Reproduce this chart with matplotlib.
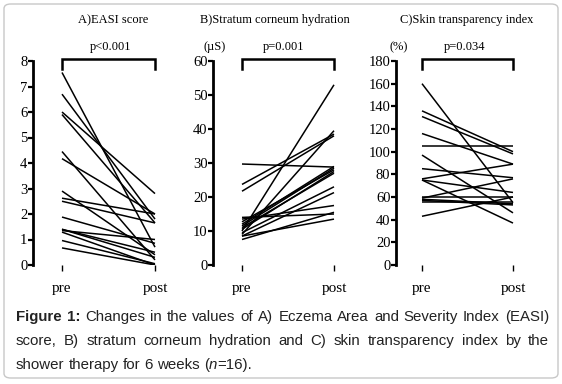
import matplotlib
matplotlib.use("Agg")
import matplotlib.pyplot as plt
from matplotlib.patches import FancyBboxPatch
import matplotlib.transforms as mtransforms

W, H, DPI = 562, 384, 100

conditions = ["pre", "post"]

easi_pre  = [7.55, 6.70, 6.00, 5.90, 4.45, 4.17, 2.90, 2.62, 2.50, 1.88, 1.40, 1.35, 1.29, 0.96, 0.67, 1.40]
easi_post = [0.70, 1.80, 2.80, 1.65, 0.20, 2.00, 0.40, 2.00, 1.65, 0.85, 0.50, 1.00, 0.00, 0.05, 0.00, 0.30]

hyd_pre  = [29.7, 23.7, 21.7, 10.0, 9.0, 14.0, 13.5, 12.7, 11.5, 10.5, 12.0, 9.5, 8.5, 8.5, 7.5, 11.0]
hyd_post = [28.8, 38.5, 38.0, 53.0, 39.5, 15.0, 17.5, 28.0, 28.5, 27.5, 29.0, 23.0, 21.3, 13.5, 15.5, 27.0]

sti_pre  = [160, 136, 131, 116, 105, 97, 85, 76, 75, 75, 60, 59, 58, 57, 56, 43]
sti_post = [55, 100, 98, 89, 105, 46, 77, 89, 64, 37, 60, 76, 54, 53, 56, 60]

titles = ["A)EASI score", "B)Stratum corneum hydration", "C)Skin transparency index"]
pvals = ["p<0.001", "p=0.001", "p=0.034"]
units = [None, "(\u00b5S)", "(%)"]
yticks_list = [list(range(0, 9, 1)), list(range(0, 61, 10)), list(range(0, 181, 20))]

SERIF = "Liberation Serif"
SANS = "Liberation Sans"

fig = plt.figure(figsize=(W / DPI, H / DPI), dpi=DPI)

# outer rounded frame
frame = FancyBboxPatch((4 / W, 1 - 378 / H), 554 / W, 374 / H,
                       boxstyle="round,pad=0,rounding_size=0.012",
                       transform=fig.transFigure, fc="none", ec="#c8c8c8", lw=1.0, zorder=-5)
fig.patches.append(frame)

# layout in pixels: (axis_x, pre_x, post_x, title_x, p_x, unit_x)
layouts = [
    (33, 62, 155, 113, 111, None),
    (213, 242, 334, 275, 284, 215),
    (396, 422, 513, 467, 465, 399),
]
series = [(easi_pre, easi_post), (hyd_pre, hyd_post), (sti_pre, sti_post)]
ymaxes = [8, 60, 180]
Y_TOP, Y_BOT = 61, 265

for i in range(3):
    ax_x, pre_x, post_x, title_x, p_x, unit_x = layouts[i]
    margin = pre_x - ax_x
    right = post_x + margin
    ax = fig.add_axes([ax_x / W, 1 - Y_BOT / H, (right - ax_x) / W, (Y_BOT - Y_TOP) / H])
    ax.patch.set_alpha(0)
    span = post_x - pre_x
    ax.set_xlim(-margin / span, 1 + margin / span)
    ax.set_ylim(0, ymaxes[i])
    pre, post = series[i]
    for a, b in zip(pre, post):
        ax.plot([0, 1], [a, b], color="black", lw=1.1, solid_capstyle="butt")
    for s in ["top", "right", "bottom"]:
        ax.spines[s].set_visible(False)
    ax.spines["left"].set_linewidth(2.0)
    ax.set_yticks(yticks_list[i])
    ax.set_yticklabels([str(v) for v in yticks_list[i]], fontfamily=SERIF, fontsize=10.5)
    ax.tick_params(axis="y", length=3.5, width=1.6, pad=0.5, direction="out")
    ax.set_xticks([0, 1])
    ax.set_xticklabels(conditions, fontfamily=SERIF, fontsize=11)
    ax.tick_params(axis="x", length=4, width=1.0, pad=8, direction="out")

    # bracket
    trans = mtransforms.blended_transform_factory(ax.transData, ax.transAxes)
    ytop = (Y_BOT - 59) / (Y_BOT - Y_TOP)
    ybot = (Y_BOT - 69) / (Y_BOT - Y_TOP)
    ax.plot([0, 0, 1, 1], [ybot, ytop, ytop, ybot], color="black", lw=1.8,
            transform=trans, clip_on=False, solid_joinstyle="miter")

    fig.text(title_x / W, 1 - 20 / H, titles[i], ha="center", va="center",
             fontfamily=SERIF, fontsize=9)
    fig.text(p_x / W, 1 - 47 / H, pvals[i], ha="center", va="center",
             fontfamily=SERIF, fontsize=9)
    if units[i]:
        fig.text(unit_x / W, 1 - 47 / H, units[i], ha="center", va="center",
                 fontfamily=SERIF, fontsize=9)

# caption with justification
renderer = fig.canvas.get_renderer()
CAP_FS = 10.8
CAP_COLOR = "#222222"

def styled(piece):
    text, style = piece
    kw = dict(fontfamily=SANS, fontsize=CAP_FS, color=CAP_COLOR, va="baseline", ha="left")
    if style == "bold":
        kw["fontweight"] = "bold"
    if style == "italic":
        kw["fontstyle"] = "italic"
    return text, kw

def measure(text, kw):
    t = fig.text(0, 0, text, **kw)
    w = t.get_window_extent(renderer).width
    t.remove()
    return w

def draw_line(words, y_px, x0=16, x1=549, justify=True):
    widths = []
    for word in words:
        wsum = 0
        for piece in word:
            txt, kw = styled(piece)
            wsum += measure(txt, kw)
        widths.append(wsum)
    base_kw = styled(("", "n"))[1]
    space = measure("a a", base_kw) - measure("aa", base_kw)
    if justify and len(words) > 1:
        gap = (x1 - x0 - sum(widths)) / (len(words) - 1)
    else:
        gap = space
    x = x0
    for word, wdt in zip(words, widths):
        xx = x
        for piece in word:
            txt, kw = styled(piece)
            fig.text(xx / W, 1 - y_px / H, txt, **kw)
            xx += measure(txt, kw)
        x += wdt + gap

def simple_words(s):
    return [[(w, "n")] for w in s.split(" ")]

line1 = [[("Figure", "bold")], [("1:", "bold")]] + simple_words(
    "Changes in the values of A) Eczema Area and Severity Index (EASI)")
line2 = simple_words("score, B) stratum corneum hydration and C) skin transparency index by the")
line3 = simple_words("shower therapy for 6 weeks") + [[("(", "n"), ("n", "italic"), ("=16).", "n")]]

draw_line(line1, 321)
draw_line(line2, 345)
draw_line(line3, 369, justify=False)

fig.savefig("out.png", dpi=DPI)
